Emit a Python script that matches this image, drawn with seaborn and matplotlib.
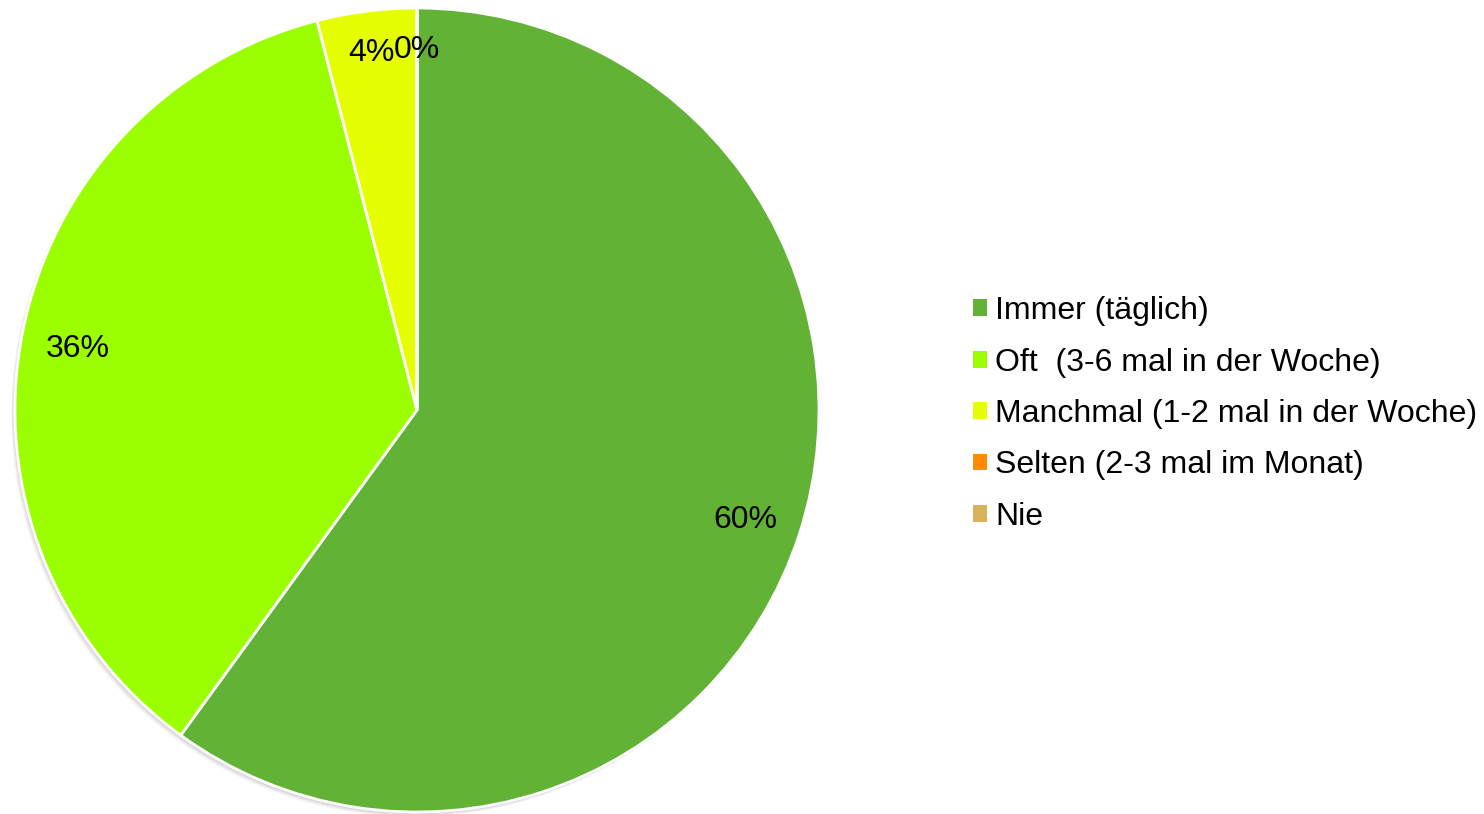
import matplotlib
matplotlib.use("Agg")
import matplotlib.pyplot as plt
import matplotlib.patches as mpatches
import numpy as np
import seaborn as sns

categories = ["Immer (täglich)", "Oft  (3-6 mal in der Woche)", "Manchmal (1-2 mal in der Woche)",
              "Selten (2-3 mal im Monat)", "Nie"]
values = [60, 36, 4, 0, 0]
pct_labels = ["60%", "36%", "4%", "0%", "0%"]
colors = ["#62B236", "#9BFF00", "#E6FF00", "#FF8C00", "#D9B35A"]

sns.set_theme(style="white")
plt.rcParams['font.family'] = ['Liberation Sans', 'DejaVu Sans']

W, H = 1484, 814
fig = plt.figure(figsize=(W / 100, H / 100), dpi=100)
cx, cy, r = 417, 410, 402
ax = fig.add_axes([(cx - r) / W, (H - cy - r) / H, 2 * r / W, 2 * r / H])

# soft shadow
for k, a in enumerate([0.10, 0.08, 0.06]):
    sh = mpatches.Circle((-0.004 - 0.003 * k, -0.006 - 0.003 * k), 1.0, facecolor="#555555",
                         edgecolor="none", alpha=a, zorder=0, clip_on=False)
    ax.add_patch(sh)

wedges, texts = ax.pie(values, colors=colors, startangle=90, counterclock=False,
                       radius=1.0, wedgeprops=dict(edgecolor="white", linewidth=2, zorder=1))
ax.set_xlim(-1.0, 1.0)
ax.set_ylim(-1.0, 1.0)
ax.set_aspect("equal")
ax.axis("off")

total = sum(values)
cum = 0
for i, (v, lab) in enumerate(zip(values, pct_labels)):
    mid = cum + v / 2
    cum += v
    if i == 4:
        continue  # coincides with the other 0% label
    ang = np.deg2rad(90 - 360 * mid / total)
    d = 0.86 if v >= 10 else 0.905
    ax.text(d * np.cos(ang), d * np.sin(ang), lab, ha="center", va="center_baseline",
            fontsize=23, color="black", zorder=5)

handles = [mpatches.Patch(facecolor=c, edgecolor="none") for c in colors]
leg = fig.legend(handles, categories, loc="center left", bbox_to_anchor=(973 / W, 1 - 414 / H),
                 frameon=False, fontsize=23, handlelength=0.44, handleheight=0.44,
                 handletextpad=0.25, labelspacing=0.67, borderpad=0, borderaxespad=0)
for t in leg.get_texts():
    t.set_color("black")

fig.savefig("out.png", dpi=100)
